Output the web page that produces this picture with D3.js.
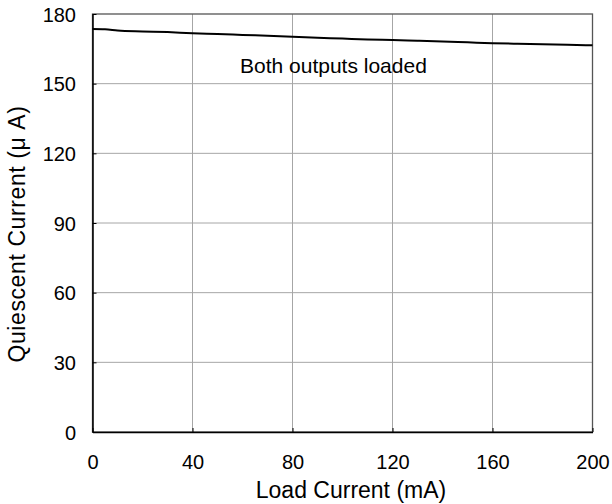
<!DOCTYPE html>
<html><head><meta charset="utf-8">
<script src="https://cdn.jsdelivr.net/npm/d3@7"></script>
<style>body{margin:0;background:#fff}svg{display:block}text{font-family:"Liberation Sans",Arial,sans-serif;fill:#000}</style>
</head><body><svg id="c" width="612" height="504"></svg>
<script>
const loadCurrent = [0, 5, 10, 20, 30, 40, 50, 60, 70, 80, 90, 100, 110, 120, 130, 140, 150, 160, 170, 180, 190, 200];
const quiescent   = [173.5, 173.4, 172.9, 172.5, 172.2, 171.7, 171.4, 171.0, 170.6, 170.2, 169.8, 169.4, 169.0, 168.8, 168.5, 168.2, 167.8, 167.4, 167.2, 167.0, 166.8, 166.5];
const xTicks = [0, 40, 80, 120, 160, 200];
const yTicks = [0, 30, 60, 90, 120, 150, 180];
const annotation = "Both outputs loaded";
const xTitle = "Load Current (mA)";
const yTitle = "Quiescent Current (\u03bc A)";

const svg = d3.select("#c");
const L = 92.5, R = 592.5, T = 14, B = 432;
const x = d3.scaleLinear().domain([0, 200]).range([L, R]);
const y = d3.scaleLinear().domain([0, 180]).range([B, T]);

// grid
svg.append("g").selectAll("line").data(xTicks.slice(1, -1)).join("line")
  .attr("x1", d => x(d)).attr("x2", d => x(d)).attr("y1", T).attr("y2", B)
  .attr("stroke", "#a6a6a6").attr("stroke-width", 1);
svg.append("g").selectAll("line").data(yTicks.slice(1, -1)).join("line")
  .attr("y1", d => y(d)).attr("y2", d => y(d)).attr("x1", L).attr("x2", R)
  .attr("stroke", "#a6a6a6").attr("stroke-width", 1);

// frame
svg.append("rect").attr("x", L).attr("y", T).attr("width", R - L).attr("height", B - T)
  .attr("fill", "none").attr("stroke", "#555").attr("stroke-width", 1.3);

// axes
const xAxis = d3.axisBottom(x).tickValues(xTicks).tickSizeInner(-4).tickSizeOuter(0);
const gx = svg.append("g").attr("transform", `translate(0,${B})`).call(xAxis);
gx.select(".domain").attr("stroke", "#000").attr("stroke-width", 1.5);
gx.selectAll(".tick line").attr("stroke", "#000");
gx.selectAll("text").attr("font-size", 20).attr("font-family", "Liberation Sans, Arial, sans-serif")
  .attr("fill", "#000").attr("y", 37).attr("dy", 0);

const yAxis = d3.axisLeft(y).tickValues(yTicks).tickSizeInner(-4).tickSizeOuter(0);
const gy = svg.append("g").attr("transform", `translate(${L},0)`).call(yAxis);
gy.select(".domain").attr("stroke", "#000").attr("stroke-width", 1.5);
gy.selectAll(".tick line").attr("stroke", "#000");
gy.selectAll("text").attr("font-size", 20).attr("font-family", "Liberation Sans, Arial, sans-serif")
  .attr("fill", "#000").attr("x", -16.5).attr("dy", "0.35em");

// line
const line = d3.line().x((d, i) => x(loadCurrent[i])).y(d => y(d)).curve(d3.curveMonotoneX);
svg.append("path").datum(quiescent).attr("d", line)
  .attr("fill", "none").attr("stroke", "#000").attr("stroke-width", 2);

// annotation
svg.append("text").attr("x", 240).attr("y", 73).attr("font-size", 21).text(annotation);

// titles
svg.append("text").attr("x", 351).attr("y", 498).attr("text-anchor", "middle")
  .attr("font-size", 23).text(xTitle);
svg.append("text").attr("transform", `translate(25,234) rotate(-90)`)
  .attr("text-anchor", "middle").attr("font-size", 23).attr("letter-spacing", 0.6).text(yTitle);
</script></body></html>
